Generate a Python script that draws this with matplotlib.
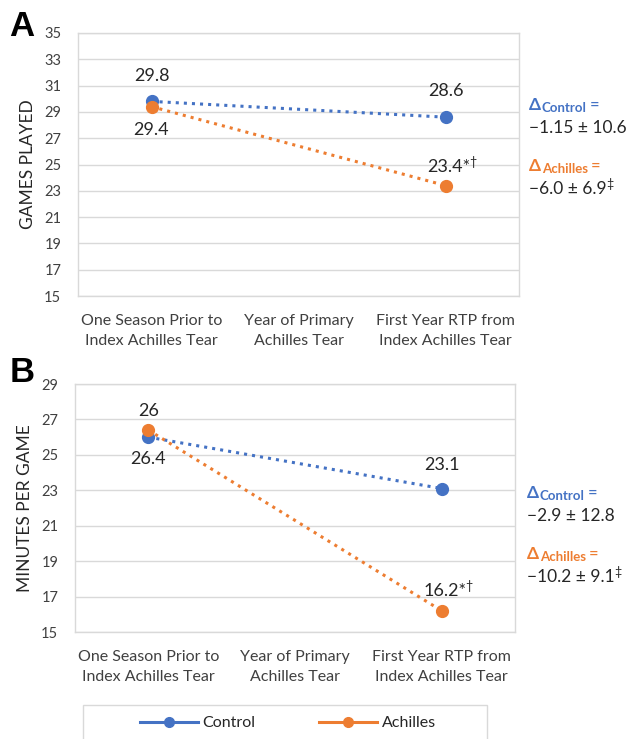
import matplotlib
matplotlib.use('Agg')
import matplotlib.pyplot as plt
from matplotlib.lines import Line2D
from matplotlib.patches import Rectangle
import numpy as np

plt.rcParams['font.family'] = ['Lato', 'DejaVu Sans']

# data
categories = ['One Season Prior to\nIndex Achilles Tear',
              'Year of Primary\nAchilles Tear',
              'First Year RTP from\nIndex Achilles Tear']
games_control = [29.8, np.nan, 28.6]
games_achilles = [29.4, np.nan, 23.4]
minutes_control = [26.0, np.nan, 23.1]
minutes_achilles = [26.4, np.nan, 16.2]

games_labels_control = ['29.8', None, '28.6']
games_labels_achilles = ['29.4', None, '23.4*']
minutes_labels_control = ['26', None, '23.1']
minutes_labels_achilles = ['26.4', None, '16.2*']

delta_games = ['\u22121.15 \u00b1 10.6', '\u22126.0 \u00b1 6.9']
delta_minutes = ['\u22122.9 \u00b1 12.8', '\u221210.2 \u00b1 9.1']

BLUE = '#4472C4'
ORANGE = '#ED7D31'
GRID = '#D9D9D9'
TXT = '#262626'

W, H = 629, 739
fig = plt.figure(figsize=(W / 100, H / 100), dpi=100)


def fx(px):
    return px / W


def fy(py):
    return 1 - py / H


def make_axes(l, t, r, b):
    return fig.add_axes([fx(l), fy(b), fx(r) - fx(l), fy(t) - fy(b)])


def style_axes(ax, ylim, ylabel):
    ax.set_xlim(-0.5, 2.5)
    ax.set_ylim(*ylim)
    ax.set_yticks(np.arange(ylim[0], ylim[1] + 1, 2))
    ax.set_xticks(range(len(categories)))
    ax.set_xticklabels(categories, linespacing=1.55)
    ax.tick_params(axis='both', length=0, labelsize=10.5, colors='#404040')
    ax.tick_params(axis='x', pad=13, labelsize=11.5)
    ax.tick_params(axis='y', pad=12)
    ax.grid(axis='y', color=GRID, lw=1)
    ax.set_axisbelow(True)
    for s in ax.spines.values():
        s.set_color(GRID)
        s.set_linewidth(1)
    ax.set_ylabel(ylabel, fontsize=12.5, color=TXT, labelpad=6)


def draw_series(ax, vals, color):
    vals = np.array(vals, dtype=float)
    x = np.arange(len(vals))
    m = ~np.isnan(vals)
    ax.plot(x[m], vals[m], ls=':', lw=2.2, color=color, marker='o',
            markersize=8.5, zorder=3)


def data_labels(ax, vals, labels, offsets):
    for i, (v, lab) in enumerate(zip(vals, labels)):
        if lab is None:
            continue
        dx, dy = offsets[i]
        t = ax.annotate(lab, xy=(i, v), xytext=(dx * 0.72, dy * 0.72),
                        textcoords='offset points', ha='center', va='center',
                        fontsize=13, color=TXT, annotation_clip=False)
        if lab.endswith('*'):
            ax.annotate('\u2020', xy=(1, 1), xycoords=t, xytext=(-0.5, 2),
                        textcoords='offset points', ha='left', va='top',
                        fontsize=9, color=TXT, annotation_clip=False)


def delta_block(ax, px, py, name, color, value, mark):
    d = ax.annotate('\u0394', xy=(fx(px), fy(py)), xycoords='figure fraction',
                    ha='left', va='center', fontsize=12.5, fontweight='bold',
                    color=color, annotation_clip=False)
    s = ax.annotate(name, xy=(1, 0), xycoords=d, xytext=(0.5, -1),
                    textcoords='offset points', ha='left', va='bottom',
                    fontsize=9.5, fontweight='bold', color=color,
                    annotation_clip=False)
    ax.annotate('=', xy=(1, 0.5), xycoords=(s, d), xytext=(2, 0),
                textcoords='offset points', ha='left', va='center',
                fontsize=12, color=color, annotation_clip=False)
    v = ax.annotate(value, xy=(fx(px), fy(py + 23)), xycoords='figure fraction',
                    ha='left', va='center', fontsize=12.5, color=TXT,
                    annotation_clip=False)
    if mark:
        ax.annotate(mark, xy=(1, 1), xycoords=v, xytext=(0, 2),
                    textcoords='offset points', ha='left', va='top',
                    fontsize=9, color=TXT, annotation_clip=False)


# ---- panel A
ax_a = make_axes(78, 33, 519, 296)
style_axes(ax_a, (15, 35), 'GAMES PLAYED')
draw_series(ax_a, games_control, BLUE)
draw_series(ax_a, games_achilles, ORANGE)
data_labels(ax_a, games_control, games_labels_control,
            [(0, 25), None, (0, 26)])
data_labels(ax_a, games_achilles, games_labels_achilles,
            [(0, -23), None, (3, 19)])
delta_block(ax_a, 529, 105, 'Control', BLUE, delta_games[0], '')
delta_block(ax_a, 529, 166, 'Achilles', ORANGE, delta_games[1], '\u2021')

# ---- panel B
ax_b = make_axes(75, 384, 515, 632)
style_axes(ax_b, (15, 29), 'MINUTES PER GAME')
draw_series(ax_b, minutes_control, BLUE)
draw_series(ax_b, minutes_achilles, ORANGE)
data_labels(ax_b, minutes_control, minutes_labels_control,
            [(0, 26), None, (0, 24)])
data_labels(ax_b, minutes_achilles, minutes_labels_achilles,
            [(0, -29), None, (3, 20)])
delta_block(ax_b, 527, 493, 'Control', BLUE, delta_minutes[0], '')
delta_block(ax_b, 527, 554, 'Achilles', ORANGE, delta_minutes[1], '\u2021')

# panel letters
fig.text(fx(9), fy(26), 'A', fontsize=25, fontweight='bold',
         family=['Liberation Sans', 'DejaVu Sans'], va='center', ha='left')
fig.text(fx(10), fy(372), 'B', fontsize=25, fontweight='bold',
         family=['Liberation Sans', 'DejaVu Sans'], va='center', ha='left')

# legend
fig.add_artist(Rectangle((fx(83), -0.02), fx(487) - fx(83), fy(705) + 0.02,
                         transform=fig.transFigure, fill=False,
                         edgecolor=GRID, lw=1))
handles = [Line2D([], [], color=BLUE, lw=2.2, marker='o', markersize=7),
           Line2D([], [], color=ORANGE, lw=2.2, marker='o', markersize=7)]
fig.legend(handles, ['Control', 'Achilles'], loc='center',
           bbox_to_anchor=(fx(288), fy(723)), ncol=2, frameon=False,
           fontsize=11.5, handlelength=3.6, columnspacing=4.0,
           handletextpad=0.3, labelcolor=TXT)

fig.savefig('out.png', dpi=100)
